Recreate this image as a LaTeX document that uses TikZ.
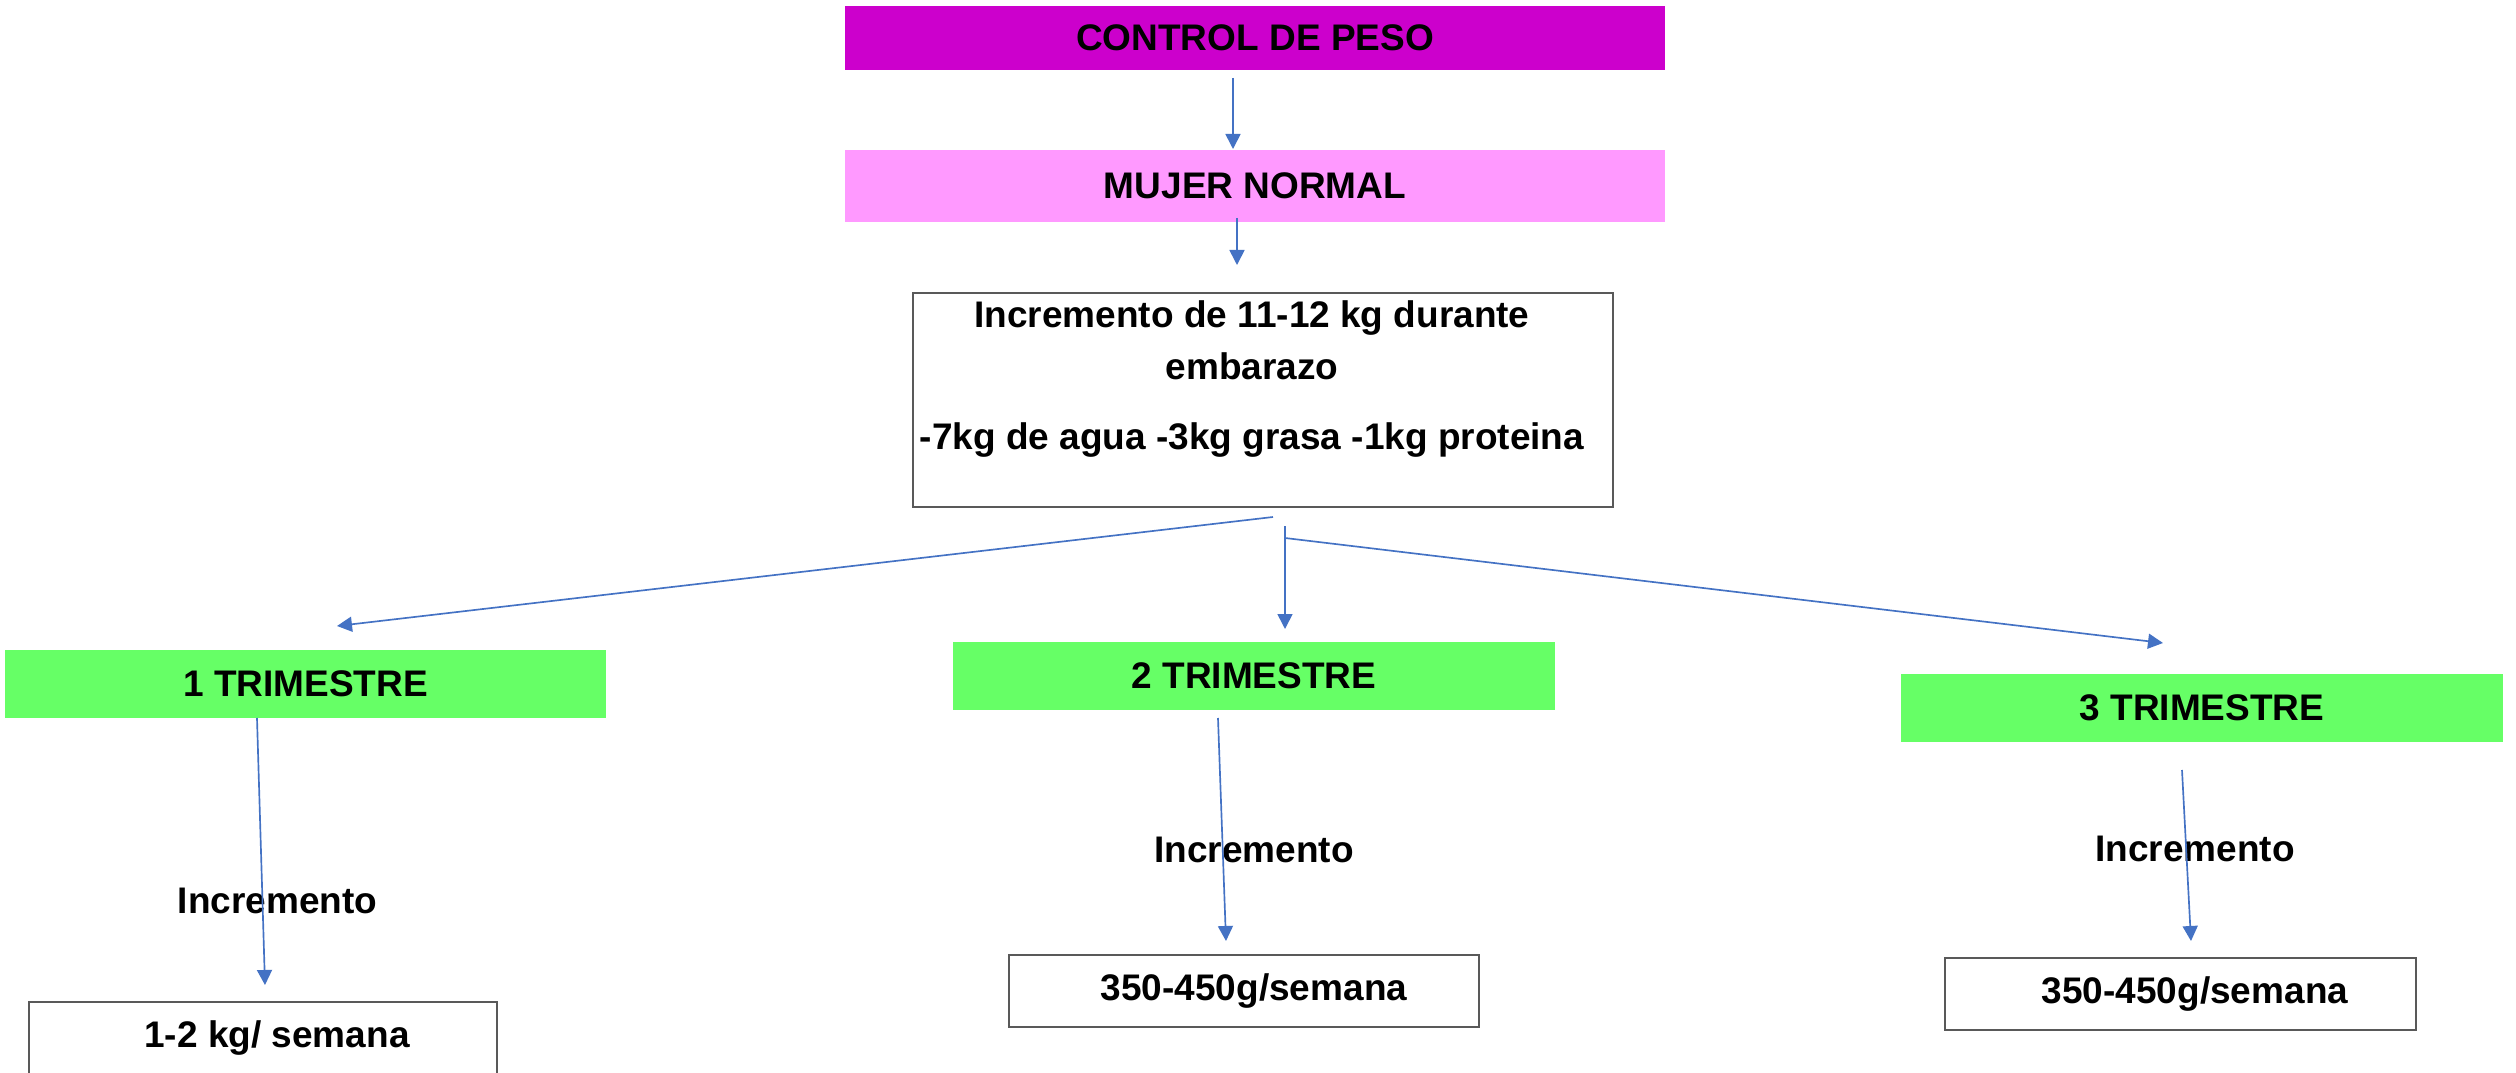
\documentclass[tikz,border=0pt]{standalone}
\usepackage{fontspec}
\setmainfont{Liberation Sans}
\usetikzlibrary{arrows.meta}
\definecolor{magenta1}{HTML}{CC00CC}
\definecolor{pink1}{HTML}{FF99FF}
\definecolor{green1}{HTML}{66FF66}
\definecolor{arrowblue}{HTML}{4472C4}
\definecolor{boxgray}{HTML}{595959}
\tikzset{
  txt/.style={font=\fontsize{11.1pt}{15.6pt}\selectfont\bfseries, text=black, inner sep=0pt},
  filledbox/.style={txt, draw=none, fill=#1},
  framebox/.style={txt, draw=boxgray, line width=0.6pt, fill=white},
  conn/.style={draw=arrowblue, line width=0.5pt, -{Triangle[width=4.5pt,length=4.5pt]}}
}
\begin{document}
\begin{tikzpicture}[x=0.3pt, y=-0.3pt]
\clip (0,0) rectangle (2516,1073);
\fill[white] (0,0) rectangle (2516,1073);

% top boxes
\node[filledbox=magenta1, minimum width={820*0.3pt}, minimum height={64*0.3pt}] (ctrl) at (1255,38) {CONTROL DE PESO};
\node[filledbox=pink1, minimum width={820*0.3pt}, minimum height={72*0.3pt}] (mujer) at (1255,186) {MUJER NORMAL};

% increment box
\node[framebox, minimum width={700*0.3pt}, minimum height={214*0.3pt}] (inc) at (1263,400) {};
\node[txt, align=center, anchor=north] (inctext) at (1252,300)
  {Incremento de 11-12 kg durante\\ embarazo\\[5.4pt] -7kg de agua -3kg grasa -1kg proteina};

% trimesters
\node[filledbox=green1, minimum width={601*0.3pt}, minimum height={68*0.3pt}] (t1) at (305.5,684) {1 TRIMESTRE};
\node[filledbox=green1, minimum width={602*0.3pt}, minimum height={68*0.3pt}] (t2) at (1254,676) {2 TRIMESTRE};
\node[filledbox=green1, minimum width={602*0.3pt}, minimum height={68*0.3pt}] (t3) at (2202,708) {3 TRIMESTRE};

% labels
\node[txt] (l1) at (277.5,901) {Incremento};
\node[txt] (l2) at (1254,850) {Incremento};
\node[txt] (l3) at (2195,849) {Incremento};

% bottom boxes
\node[framebox, minimum width={468*0.3pt}, minimum height={73*0.3pt}] (b1) at (263,1038.5) {\hspace*{8.4pt}1-2 kg/ semana};
\node[framebox, minimum width={470*0.3pt}, minimum height={72*0.3pt}] (b2) at (1244,991) {\hspace*{6pt}350-450g/semana};
\node[framebox, minimum width={471*0.3pt}, minimum height={72*0.3pt}] (b3) at (2180.5,994) {\hspace*{8.7pt}350-450g/semana};

% connector end points
\coordinate (a1s) at (1233,78);   \coordinate (a1e) at (1233,149);
\coordinate (a2s) at (1237,218);  \coordinate (a2e) at (1237,265);
\coordinate (bls) at (1273,517);  \coordinate (ble) at (337,626);
\coordinate (bms) at (1285,526);  \coordinate (bme) at (1285,629);
\coordinate (brs) at (1285,538);  \coordinate (bre) at (2163,643);
\coordinate (c1s) at (257,718);   \coordinate (c1e) at (265,985);
\coordinate (c2s) at (1218,718);  \coordinate (c2e) at (1226,941);
\coordinate (c3s) at (2182,770);  \coordinate (c3e) at (2191,941);

\draw[conn] (a1s) -- (a1e);
\draw[conn] (a2s) -- (a2e);
\draw[conn] (bls) -- (ble);
\draw[conn] (bms) -- (bme);
\draw[conn] (brs) -- (bre);
\draw[conn] (c1s) -- (c1e);
\draw[conn] (c2s) -- (c2e);
\draw[conn] (c3s) -- (c3e);
\end{tikzpicture}
\end{document}
